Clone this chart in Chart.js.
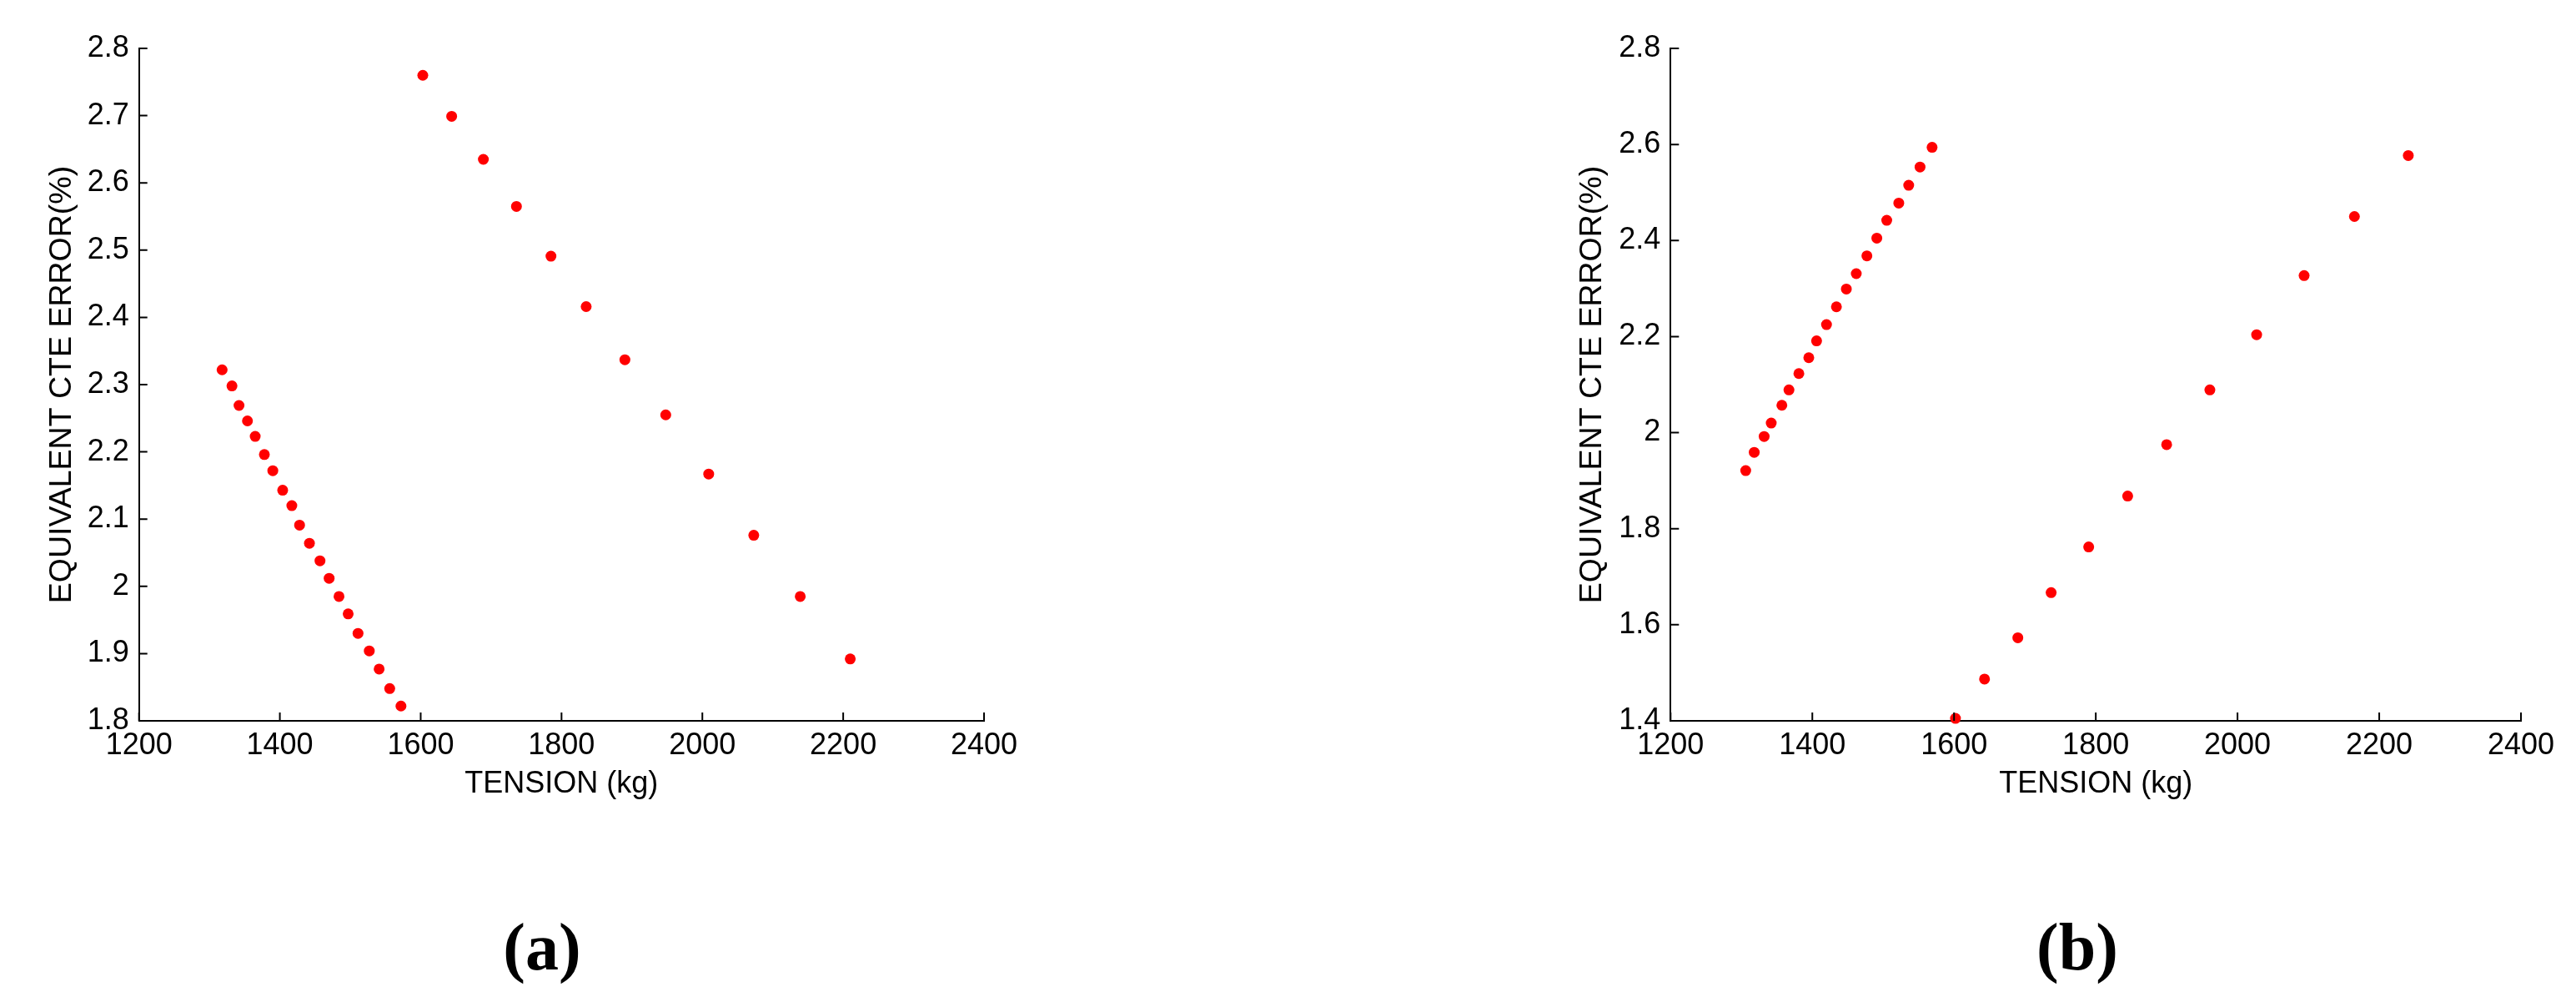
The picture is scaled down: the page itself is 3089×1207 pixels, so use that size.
<!DOCTYPE html>
<html>
<head>
<meta charset="utf-8">
<script src="https://cdn.jsdelivr.net/npm/chart.js@4/dist/chart.umd.min.js"></script>
<style>
  body { margin: 0; background: #fff; width: 3089px; height: 1207px; position: relative; overflow: hidden; }
  canvas { position: absolute; top: 0; }
  .panel { position: absolute; top: 1095px; font: bold 80px "Liberation Serif", "Times New Roman", serif; color: #000; transform: translateX(-50%); line-height: 1; }
</style>
</head>
<body>
<canvas id="chartA" width="1300" height="1000" style="left:0px"></canvas>
<canvas id="chartB" width="1252" height="1000" style="left:1837px"></canvas>
<div class="panel" style="left:650px">(a)</div>
<div class="panel" style="left:2491px">(b)</div>
<script>
// values
const tensionA1 = [1318, 1332, 1342, 1354, 1365, 1378, 1390, 1404, 1417, 1428, 1442, 1457, 1470, 1484, 1497, 1511, 1527, 1541, 1556, 1572];
const errorA1 = [2.322, 2.298, 2.269, 2.246, 2.223, 2.196, 2.172, 2.143, 2.120, 2.091, 2.064, 2.038, 2.012, 1.985, 1.959, 1.930, 1.904, 1.877, 1.848, 1.822];
const tensionA2 = [1603, 1644, 1689, 1736, 1785, 1835, 1890, 1948, 2009, 2073, 2139, 2210];
const errorA2 = [2.760, 2.699, 2.635, 2.565, 2.491, 2.416, 2.337, 2.255, 2.167, 2.076, 1.985, 1.892];

const tensionB1 = [1306, 1318, 1332, 1342, 1357, 1367, 1381, 1395, 1406, 1420, 1434, 1448, 1462, 1477, 1491, 1505, 1522, 1536, 1552, 1569];
const errorB1 = [1.921, 1.959, 1.992, 2.020, 2.057, 2.089, 2.123, 2.156, 2.191, 2.225, 2.262, 2.299, 2.331, 2.368, 2.405, 2.442, 2.478, 2.515, 2.553, 2.594];
const tensionB2 = [1602, 1643, 1690, 1737, 1790, 1845, 1900, 1961, 2027, 2094, 2165, 2241];
const errorB2 = [1.405, 1.487, 1.573, 1.667, 1.762, 1.868, 1.975, 2.089, 2.204, 2.327, 2.450, 2.577];

const xTicks = [1200, 1400, 1600, 1800, 2000, 2200, 2400];
const yTicksA = [1.8, 1.9, 2.0, 2.1, 2.2, 2.3, 2.4, 2.5, 2.6, 2.7, 2.8];
const yTicksB = [1.4, 1.6, 1.8, 2.0, 2.2, 2.4, 2.6, 2.8];

const xTitle = "TENSION (kg)";
const yTitle = "EQUIVALENT CTE ERROR(%)";

const font = { family: "'Liberation Sans', Arial, sans-serif", size: 36 };
const yTitleFont = { family: "'Liberation Sans', Arial, sans-serif", size: 37.5 };

function points(xs, ys) {
  return xs.map((x, i) => ({ x: x, y: ys[i] }));
}

// matlab style ticks that point into the plot
const innerTicks = {
  id: "innerTicks",
  afterDraw(chart) {
    const ctx = chart.ctx;
    const a = chart.chartArea;
    ctx.save();
    ctx.strokeStyle = "#000";
    ctx.lineWidth = 2;
    ctx.beginPath();
    chart.scales.x.ticks.forEach(t => {
      const px = chart.scales.x.getPixelForValue(t.value);
      ctx.moveTo(px, a.bottom);
      ctx.lineTo(px, a.bottom - 10);
    });
    chart.scales.y.ticks.forEach(t => {
      const py = chart.scales.y.getPixelForValue(t.value);
      ctx.moveTo(a.left, py);
      ctx.lineTo(a.left + 10, py);
    });
    ctx.stroke();
    ctx.restore();
  }
};

function makeChart(id, sets, yTicks, areaLeft, padRight, yTitlePad) {
  return new Chart(document.getElementById(id), {
    type: "scatter",
    data: {
      datasets: sets.map(s => ({
        data: points(s[0], s[1]),
        backgroundColor: "#ff0000",
        borderColor: "#ff0000",
        pointRadius: 6.5,
        borderWidth: 0,
        clip: false
      }))
    },
    options: {
      responsive: false,
      animation: false,
      layout: { padding: { left: 0, top: 58, right: padRight, bottom: 0 } },
      plugins: { legend: { display: false }, tooltip: { enabled: false } },
      scales: {
        x: {
          type: "linear",
          min: xTicks[0],
          max: xTicks[xTicks.length - 1],
          afterBuildTicks: s => { s.ticks = xTicks.map(v => ({ value: v })); },
          afterFit: s => { s.height = 136; },
          grid: { display: false, drawTicks: false },
          border: { display: true, color: "#000", width: 2 },
          ticks: { color: "#000", font: font, padding: 8, maxRotation: 0, callback: v => String(v) },
          title: { display: true, text: xTitle, color: "#000", font: font, padding: { top: 0, bottom: 38 } }
        },
        y: {
          type: "linear",
          min: yTicks[0],
          max: yTicks[yTicks.length - 1],
          afterBuildTicks: s => { s.ticks = yTicks.map(v => ({ value: v })); },
          afterFit: s => { s.width = areaLeft; },
          grid: { display: false, drawTicks: false },
          border: { display: true, color: "#000", width: 2 },
          ticks: { color: "#000", font: font, padding: 12, callback: v => String(+v.toFixed(2)) },
          title: { display: true, text: yTitle, color: "#000", font: yTitleFont, padding: { top: yTitlePad, bottom: 0 } }
        }
      }
    },
    plugins: [innerTicks]
  });
}

makeChart("chartA", [[tensionA1, errorA1], [tensionA2, errorA2]], yTicksA, 166.7, 120, 52);
makeChart("chartB", [[tensionB1, errorB1], [tensionB2, errorB2]], yTicksB, 166.3, 66, 50);
</script>
</body>
</html>
